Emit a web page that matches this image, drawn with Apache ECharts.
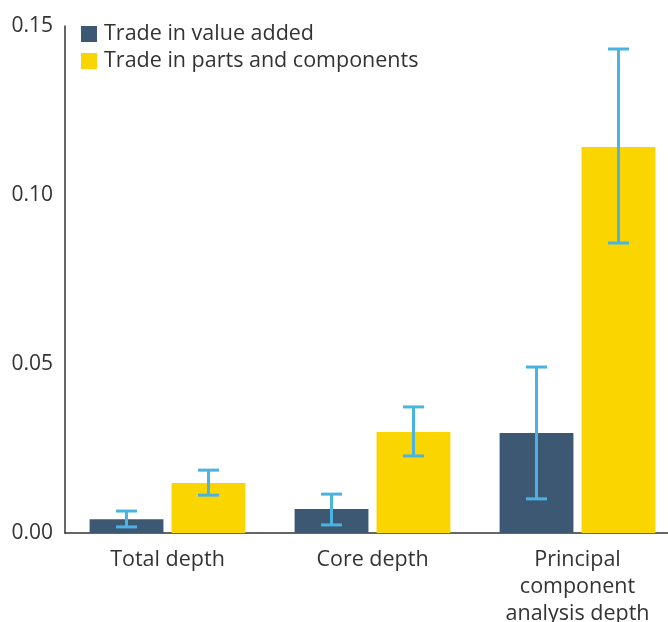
<!DOCTYPE html>
<html><head><meta charset="utf-8">
<script src="https://cdn.jsdelivr.net/npm/echarts@6/dist/echarts.min.js"></script>
<style>html,body{margin:0;padding:0;background:#fff}#c{width:668px;height:622px}</style>
</head><body><div id="c"></div>
<script>
var categories = ['Total depth', 'Core depth', 'Principal\ncomponent\nanalysis depth'];
var seriesNames = ['Trade in value added', 'Trade in parts and components'];
var valueAdded = [0.0041, 0.0071, 0.0296];
var valueAddedLow = [0.0018, 0.0024, 0.0101];
var valueAddedHigh = [0.0065, 0.0115, 0.0491];
var partsComp = [0.0148, 0.0299, 0.1142];
var partsCompLow = [0.0112, 0.0228, 0.0858];
var partsCompHigh = [0.0186, 0.0373, 0.1432];
var yTicks = [0, 0.05, 0.10, 0.15];

var FONT = '"Open Sans", "Noto Sans", sans-serif';
var DARK = '#3d5873', YEL = '#fad500', ERR = '#4ab3e2';

function errData(low, high) {
  return categories.map(function (c, i) { return [i, low[i], high[i]]; });
}
function errRender(seriesIdx) {
  return function (params, api) {
    var i = api.value(0);
    var lo = api.coord([i, api.value(1)]);
    var hi = api.coord([i, api.value(2)]);
    var size = api.size([1, 0]);
    var bandW = size[0];
    var barW = bandW * 0.76 / 2.11;
    var gap = barW * 0.11;
    var offset = (seriesIdx === 0 ? -1 : 1) * (barW / 2 + gap / 2);
    var x = lo[0] + offset;
    var hw = 10.5;
    var style = { stroke: ERR, lineWidth: 3 };
    return { type: 'group', children: [
      { type: 'line', shape: { x1: x, y1: hi[1], x2: x, y2: lo[1] }, style: style },
      { type: 'line', shape: { x1: x - hw, y1: hi[1], x2: x + hw, y2: hi[1] }, style: style },
      { type: 'line', shape: { x1: x - hw, y1: lo[1], x2: x + hw, y2: lo[1] }, style: style }
    ] };
  };
}

var chart = echarts.init(document.getElementById('c'), null, { renderer: 'canvas' });
chart.setOption({
  animation: false,
  textStyle: { fontFamily: FONT },
  legend: {
    data: seriesNames, orient: 'vertical', left: 76, top: 18,
    itemWidth: 16, itemHeight: 16, itemGap: 5, icon: 'rect',
    textStyle: { fontSize: 21.5, color: '#333', fontFamily: FONT, padding: [0, 0, 0, 2] }
  },
  grid: { left: 65, right: -12, top: 26, bottom: 89, containLabel: false, outerBoundsMode: 'none' },
  xAxis: {
    type: 'category', data: categories,
    axisLine: { lineStyle: { color: '#333', width: 1.5 } },
    axisTick: { show: false },
    axisLabel: { fontSize: 21.5, color: '#333', lineHeight: 27, margin: 13, fontFamily: FONT, interval: 0 }
  },
  yAxis: {
    type: 'value', min: 0, max: 0.15, interval: 0.05,
    splitLine: { show: false },
    axisLine: { show: true, lineStyle: { color: '#333', width: 1.5 } },
    axisTick: { show: false },
    axisLabel: { fontSize: 21, color: '#333', margin: 12, fontFamily: FONT,
      formatter: function (v) { return v.toFixed(2); } }
  },
  series: [
    { name: seriesNames[0], type: 'bar', data: valueAdded, itemStyle: { color: DARK },
      barGap: '11%', barCategoryGap: '24%' },
    { name: seriesNames[1], type: 'bar', data: partsComp, itemStyle: { color: YEL },
      barGap: '11%', barCategoryGap: '24%' },
    { type: 'custom', renderItem: errRender(0), data: errData(valueAddedLow, valueAddedHigh), z: 10,
      encode: { x: 0, y: [1, 2] } },
    { type: 'custom', renderItem: errRender(1), data: errData(partsCompLow, partsCompHigh), z: 10,
      encode: { x: 0, y: [1, 2] } }
  ]
});
</script></body></html>
